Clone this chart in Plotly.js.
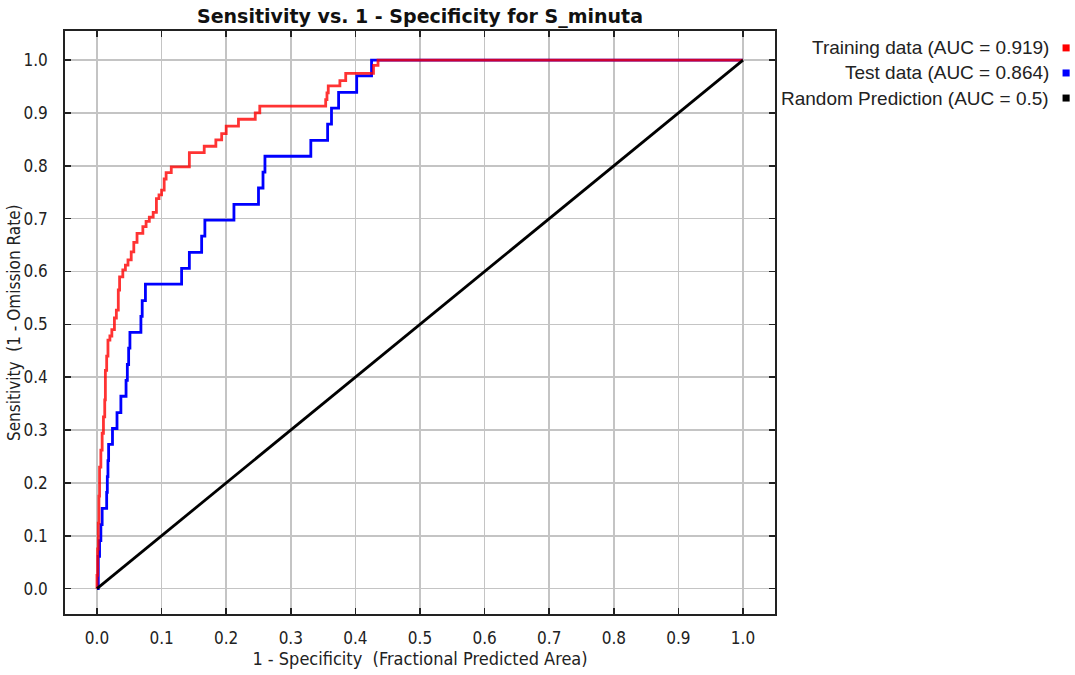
<!DOCTYPE html>
<html>
<head>
<meta charset="utf-8">
<script src="https://cdn.plot.ly/plotly-3.0.1.min.js"></script>
<style>html,body{margin:0;padding:0;background:#fff;}#chart{width:1075px;height:675px;}</style>
</head>
<body>
<div id="chart"></div>
<script>
// Test data ROC (stepped)
var testX = [0, 0.002, 0.004, 0.006, 0.008, 0.015, 0.016, 0.017, 0.018, 0.024, 0.031, 0.037, 0.045, 0.047, 0.049, 0.051, 0.068, 0.070, 0.075, 0.131, 0.143, 0.162, 0.167, 0.212, 0.250, 0.257, 0.260, 0.331, 0.357, 0.363, 0.374, 0.402, 0.425, 1.0];
var testY = [0, 0.061, 0.091, 0.121, 0.152, 0.182, 0.212, 0.242, 0.273, 0.303, 0.333, 0.364, 0.394, 0.424, 0.455, 0.485, 0.515, 0.545, 0.576, 0.606, 0.636, 0.667, 0.697, 0.727, 0.758, 0.788, 0.818, 0.848, 0.879, 0.909, 0.939, 0.970, 1.0, 1.0];

// Training data ROC (stepped)
var trainX = [0, 0.000, 0.001, 0.002, 0.003, 0.004, 0.006, 0.008, 0.010, 0.012, 0.013, 0.015, 0.017, 0.020, 0.023, 0.027, 0.030, 0.033, 0.035, 0.040, 0.044, 0.048, 0.053, 0.057, 0.062, 0.071, 0.076, 0.081, 0.087, 0.092, 0.096, 0.100, 0.104, 0.107, 0.115, 0.143, 0.166, 0.184, 0.193, 0.200, 0.219, 0.245, 0.252, 0.354, 0.356, 0.358, 0.376, 0.385, 0.428, 0.435, 1.0];
var trainY = [0, 0.025, 0.075, 0.124, 0.175, 0.230, 0.262, 0.294, 0.325, 0.357, 0.413, 0.44, 0.47, 0.478, 0.49, 0.512, 0.527, 0.565, 0.59, 0.603, 0.612, 0.622, 0.637, 0.655, 0.672, 0.685, 0.695, 0.703, 0.712, 0.738, 0.745, 0.754, 0.775, 0.787, 0.798, 0.825, 0.837, 0.849, 0.861, 0.875, 0.888, 0.900, 0.913, 0.925, 0.938, 0.951, 0.961, 0.975, 0.99, 1.0, 1.0];

// Random prediction
var randX = [0, 1];
var randY = [0, 1];

var seriesNames = ["Training data (AUC = 0.919)", "Test data (AUC = 0.864)", "Random Prediction (AUC = 0.5)"];
var seriesColors = ["#ff0000", "#0000ff", "#000000"];
var tickVals = [0, 0.1, 0.2, 0.3, 0.4, 0.5, 0.6, 0.7, 0.8, 0.9, 1.0];
var tickText = ["0.0", "0.1", "0.2", "0.3", "0.4", "0.5", "0.6", "0.7", "0.8", "0.9", "1.0"];

var traces = [
  {x: testX, y: testY, mode: "lines", line: {color: seriesColors[1], width: 2.8, shape: "hv"}, name: seriesNames[1], hoverinfo: "skip"},
  {x: trainX, y: trainY, mode: "lines", line: {color: seriesColors[0], width: 2.8, shape: "hv"}, opacity: 0.8, name: seriesNames[0], hoverinfo: "skip"},
  {x: randX, y: randY, mode: "lines", line: {color: seriesColors[2], width: 2.8}, name: seriesNames[2], hoverinfo: "skip"}
];

var narrow = "'Liberation Sans Narrow', 'DejaVu Sans Condensed', 'Liberation Sans', sans-serif";
var tickFont = {family: narrow, size: 17, color: "#222"};
var axisCommon = {
  tickvals: tickVals, ticktext: tickText,
  showgrid: true, gridcolor: "#c4c4c4", gridwidth: 1.5,
  zeroline: false, showline: true, linecolor: "#222", linewidth: 1.8, mirror: "ticks",
  ticks: "inside", ticklen: 6, tickwidth: 1.5, tickcolor: "#222",
  tickfont: tickFont, fixedrange: true
};

var annotations = [];
var shapes = [];
var rowsY = [0.971, 0.928, 0.885];
for (var i = 0; i < 3; i++) {
  annotations.push({xref: "paper", yref: "paper", x: 1.389, y: rowsY[i], xanchor: "right", yanchor: "middle",
    text: seriesNames[i], showarrow: false, font: {family: "'Liberation Sans', Arial, sans-serif", size: 19, color: "#222"}});
  shapes.push({type: "rect", xref: "paper", yref: "paper", x0: 1.405, x1: 1.415, y0: rowsY[i] - 0.006, y1: rowsY[i] + 0.006,
    fillcolor: seriesColors[i], line: {width: 0}});
}
// y-axis title placed as rotated annotation
annotations.push({xref: "paper", yref: "paper", x: -0.0725, y: 0.5, xanchor: "center", yanchor: "middle", textangle: -90,
  text: "Sensitivity  (1 - Omission Rate)", showarrow: false, font: {family: narrow, size: 17, color: "#222"}});

var layout = {
  width: 1075, height: 675,
  margin: {l: 65, r: 300, t: 31, b: 61},
  paper_bgcolor: "#fff", plot_bgcolor: "#fff",
  showlegend: false,
  title: {text: "<b>Sensitivity vs. 1 - Specificity for S_minuta</b>", x: 0.3907, xanchor: "center", y: 0.976, yanchor: "middle",
    font: {family: "'DejaVu Sans', sans-serif", size: 19, color: "#111"}},
  xaxis: Object.assign({}, axisCommon, {
    range: [-0.0495, 1.0495],
    title: {text: "1 - Specificity  (Fractional Predicted Area)", font: {family: narrow, size: 18, color: "#222"}, standoff: 5},
    ticklabelstandoff: 8
  }),
  yaxis: Object.assign({}, axisCommon, {
    range: [-0.048, 1.055],
    ticklabelstandoff: 12
  }),
  annotations: annotations,
  shapes: shapes
};

Plotly.newPlot("chart", traces, layout, {displayModeBar: false, staticPlot: true});
</script>
</body>
</html>
